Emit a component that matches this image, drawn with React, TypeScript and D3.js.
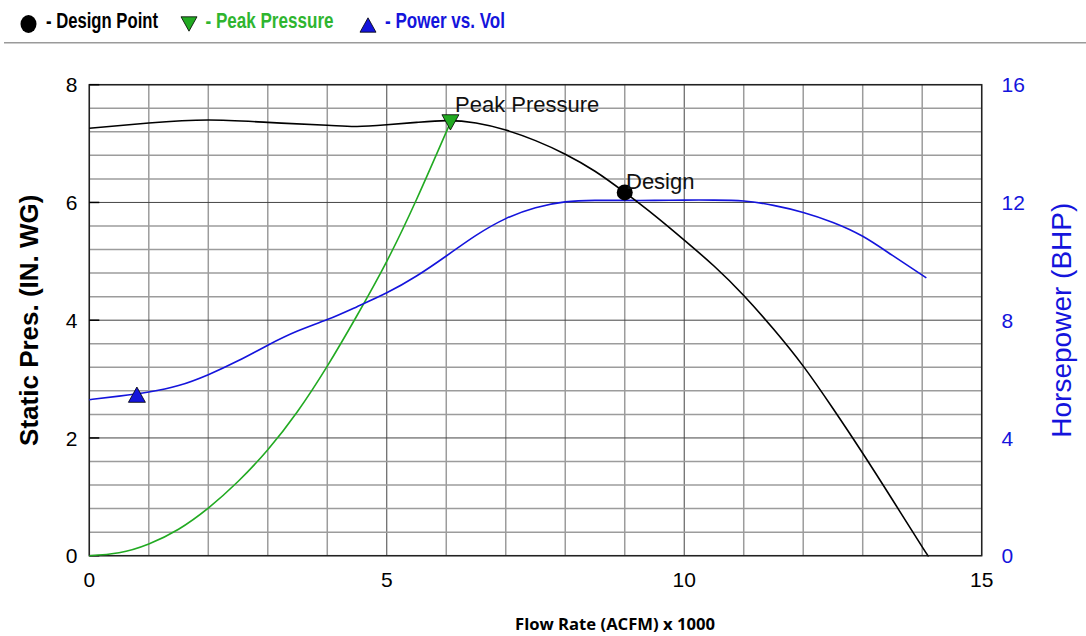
import * as d3 from "d3"

// fan curve readings, flow in ACFM x 1000
const pressFlow = [0, 1, 2, 3, 4, 4.5, 5, 5.5, 6, 6.5, 7, 7.5, 8, 8.5, 9, 9.5, 10, 10.5, 11, 11.5, 12, 12.5, 13, 13.5, 14, 14.1]
const pressValues = [7.26, 7.35, 7.4, 7.36, 7.31, 7.29, 7.32, 7.36, 7.39, 7.35, 7.23, 7.05, 6.82, 6.53, 6.17, 5.78, 5.36, 4.92, 4.42, 3.85, 3.22, 2.5, 1.74, 0.95, 0.15, 0]

const powerFlow = [0, 0.5, 1, 1.5, 2, 2.5, 3, 3.5, 4, 4.5, 5, 5.5, 6, 6.5, 7, 7.5, 8, 8.5, 9, 9.5, 10, 10.5, 11, 11.5, 12, 12.5, 13, 13.5, 14.07]
const powerValues = [5.3, 5.42, 5.56, 5.78, 6.15, 6.62, 7.15, 7.63, 8.02, 8.46, 8.93, 9.5, 10.18, 10.88, 11.45, 11.82, 12.02, 12.07, 12.07, 12.07, 12.08, 12.08, 12.05, 11.9, 11.66, 11.32, 10.85, 10.2, 9.44]

const systemFlow = [0, 0.5, 1, 1.5, 2, 2.5, 3, 3.5, 4, 4.5, 5, 5.5, 6.07]
const systemValues = [0, 0.05, 0.2, 0.45, 0.81, 1.26, 1.8, 2.45, 3.22, 4.08, 5.0, 6.05, 7.36]

const designPoint = { flow: 9, press: 6.17 }
const peakPoint = { flow: 6.07, press: 7.36 }
const powerPoint = { flow: 0.8, power: 5.47 }

const xTicks = [0, 5, 10, 15]
const pressTicks = [0, 2, 4, 6, 8]
const powerTicks = [0, 4, 8, 12, 16]

const W = 1086
const H = 636
const plot = { left: 89.3, right: 981.7, top: 84.7, bottom: 555.7 }
const FONT = "'Liberation Sans', Arial, sans-serif"
const BLUE = "#1414dc"
const GREEN = "#22aa22"

export default function App() {
  const x = d3.scaleLinear().domain([0, 15]).range([plot.left, plot.right])
  const yL = d3.scaleLinear().domain([0, 8]).range([plot.bottom, plot.top])
  const yR = d3.scaleLinear().domain([0, 16]).range([plot.bottom, plot.top])

  const minorX = d3.range(0, 15.01, 1)
  const minorY = d3.range(0, 8.01, 0.4)

  const line = d3.line<[number, number]>().curve(d3.curveNatural)
  const pressPath = line(pressFlow.map((f, i) => [x(f), yL(pressValues[i])]))
  const powerPath = line(powerFlow.map((f, i) => [x(f), yR(powerValues[i])]))
  const systemPath = line(systemFlow.map((f, i) => [x(f), yL(systemValues[i])]))

  const tri = (cx: number, cy: number, s: number, down: boolean) => {
    const h = s * 0.9
    return down
      ? `M${cx - s / 2},${cy - h / 2}L${cx + s / 2},${cy - h / 2}L${cx},${cy + h / 2}Z`
      : `M${cx - s / 2},${cy + h / 2}L${cx + s / 2},${cy + h / 2}L${cx},${cy - h / 2}Z`
  }

  const px = x(peakPoint.flow), py = yL(peakPoint.press)
  const dx = x(designPoint.flow), dy = yL(designPoint.press)
  const bx = x(powerPoint.flow), by = yR(powerPoint.power)

  return (
    <svg width={W} height={H} style={{ position: "absolute", left: 0, top: 0, background: "#fff" }} fontFamily={FONT}>
      {/* legend */}
      <ellipse cx={28.5} cy={24} rx={8} ry={9} fill="#000" />
      <text x={46} y={28} fontSize={22} fontWeight="bold" textLength={112} lengthAdjust="spacingAndGlyphs">- Design Point</text>
      <path d={tri(189, 24, 16, true)} fill={GREEN} stroke="#000" strokeWidth={0.8} />
      <text x={205.5} y={28} fontSize={22} fontWeight="bold" fill="#2fb52f" textLength={128} lengthAdjust="spacingAndGlyphs">- Peak Pressure</text>
      <path d={tri(368, 25, 16, false)} fill={BLUE} stroke="#000" strokeWidth={0.8} />
      <text x={385} y={28} fontSize={22} fontWeight="bold" fill={BLUE} textLength={120} lengthAdjust="spacingAndGlyphs">- Power vs. Vol</text>
      <line x1={4} x2={W} y1={42.7} y2={42.7} stroke="#9a9a9a" strokeWidth={1.5} />

      {/* grid */}
      {minorX.map(v => (
        <line key={"gx" + v} x1={x(v)} x2={x(v)} y1={plot.top} y2={plot.bottom}
          stroke={v % 5 === 0 ? "#444" : "#9c9c9c"} strokeWidth={v % 5 === 0 ? 1 : 1.5} />
      ))}
      {minorY.map((v, i) => (
        <line key={"gy" + i} x1={plot.left} x2={plot.right} y1={yL(v)} y2={yL(v)}
          stroke={i % 5 === 0 ? "#444" : "#9c9c9c"} strokeWidth={i % 5 === 0 ? 1 : 1.5} />
      ))}
      <rect x={plot.left} y={plot.top} width={plot.right - plot.left} height={plot.bottom - plot.top}
        fill="none" stroke="#222" strokeWidth={1.5} />
      {pressTicks.map(v => (
        <line key={"tl" + v} x1={plot.left} x2={plot.left + 10} y1={yL(v)} y2={yL(v)} stroke="#000" strokeWidth={1.5} />
      ))}

      {/* curves */}
      <path d={systemPath ?? ""} fill="none" stroke={GREEN} strokeWidth={1.6} />
      <path d={powerPath ?? ""} fill="none" stroke={BLUE} strokeWidth={1.6} />
      <path d={pressPath ?? ""} fill="none" stroke="#000" strokeWidth={1.6} />

      {/* markers */}
      <path d={tri(px, py, 17, true)} fill={GREEN} stroke="#000" strokeWidth={0.8} />
      <text x={455} y={112} fontSize={22} fill="#111">Peak Pressure</text>
      <circle cx={dx} cy={dy} r={8} fill="#000" />
      <text x={626} y={188.5} fontSize={22} fill="#111">Design</text>
      <path d={tri(bx, by, 17, false)} fill={BLUE} stroke="#000" strokeWidth={0.8} />

      {/* tick labels */}
      {pressTicks.map(v => (
        <text key={"ll" + v} x={77.5} y={yL(v)} dy="0.36em" textAnchor="end" fontSize={21}>{v}</text>
      ))}
      {powerTicks.map(v => (
        <text key={"rl" + v} x={1001.5} y={yR(v)} dy="0.36em" textAnchor="start" fontSize={21} fill={BLUE}>{v}</text>
      ))}
      {xTicks.map(v => (
        <text key={"xl" + v} x={x(v)} y={587} textAnchor="middle" fontSize={21}>{v}</text>
      ))}

      {/* axis titles */}
      <text transform={`translate(38,${(plot.top + plot.bottom) / 2}) rotate(-90)`} textAnchor="middle"
        fontSize={26} fontWeight="bold">Static Pres. (IN. WG)</text>
      <text transform={`translate(1071,${(plot.top + plot.bottom) / 2}) rotate(-90)`} textAnchor="middle"
        fontSize={28} fill={BLUE}>Horsepower (BHP)</text>
      <text x={615} y={630} textAnchor="middle" fontSize={16} fontWeight="bold" fontFamily="'Open Sans', sans-serif"
        textLength={200} lengthAdjust="spacingAndGlyphs">Flow Rate (ACFM) x 1000</text>
    </svg>
  )
}
